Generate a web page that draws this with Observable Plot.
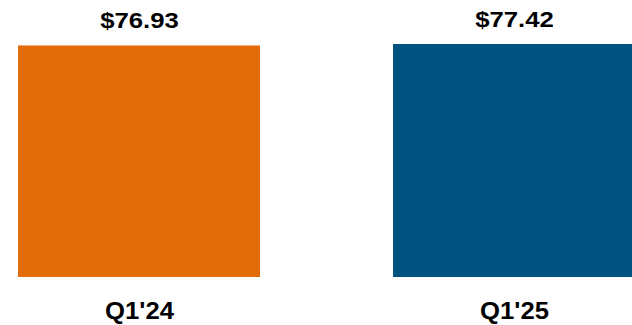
<!DOCTYPE html>
<html>
<head>
<meta charset="utf-8">
<script src="https://cdn.jsdelivr.net/npm/d3@7"></script>
<script src="https://cdn.jsdelivr.net/npm/@observablehq/plot@0.6"></script>
<style>
  html, body { margin: 0; padding: 0; background: #fff; }
  #chart svg { display: block; }
</style>
</head>
<body>
<div id="chart"></div>
<script>
const periods = ["Q1'24", "Q1'25"];
const values = [76.93, 77.42];
const labels = ["$76.93", "$77.42"];
const colors = ["#E36C0A", "#005380"];

const data = periods.map((p, i) => ({period: p, value: values[i], label: labels[i], color: colors[i]}));

const chart = Plot.plot({
  width: 632,
  height: 325,
  marginLeft: 0,
  marginRight: 0,
  marginTop: 44,
  marginBottom: 48,
  style: {fontFamily: "'Liberation Sans', Arial, sans-serif", fontWeight: "bold", color: "#000", background: "#fff", overflow: "hidden"},
  x: {domain: periods, range: [18, 636], paddingInner: 0.356, paddingOuter: 0, align: 0, label: null},
  y: {domain: [0, d3.max(values)], axis: null},
  marks: [
    Plot.barY(data, {x: "period", y: "value", fill: "color"}),
    Plot.text(data, {x: "period", y: "value", text: "label", lineAnchor: "bottom", dy: -18, fontSize: 22, fontWeight: "bold", fill: "#000", className: "vlab"}),
    Plot.axisX({tickSize: 0, tickPadding: 24, fontSize: 24, fontWeight: "bold", label: null, fill: "#000", className: "xlab"})
  ]
});

// slight horizontal stretch of text as in the reference
d3.select(chart).selectAll(".vlab text").each(function() {
  const t = this.getAttribute("transform");
  if (t) this.setAttribute("transform", t + " scale(1.17,1)");
});
d3.select(chart).selectAll(".xlab text").each(function() {
  const t = this.getAttribute("transform");
  if (t) this.setAttribute("transform", t + " scale(1.07,1)");
});

document.getElementById("chart").appendChild(chart);
</script>
</body>
</html>
